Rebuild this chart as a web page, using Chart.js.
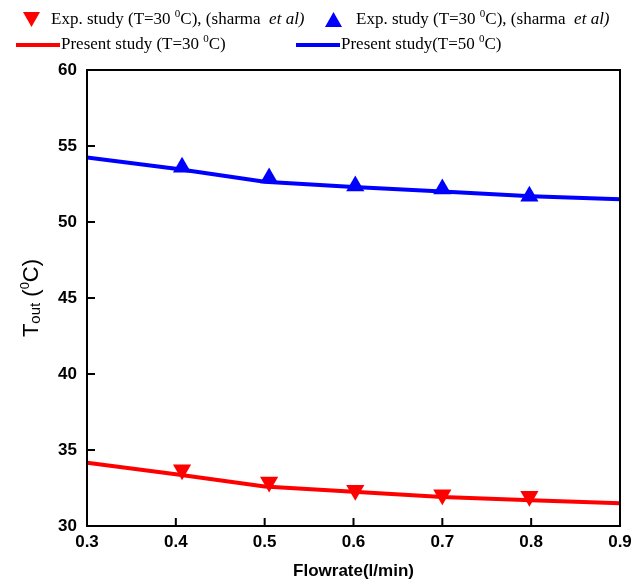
<!DOCTYPE html>
<html>
<head>
<meta charset="utf-8">
<title>Outlet temperature vs flowrate</title>
<script src="https://cdn.jsdelivr.net/npm/chart.js@4.4.1/dist/chart.umd.min.js"></script>
<style>
  html, body { margin: 0; padding: 0; background: #fff; }
</style>
</head>
<body>
<canvas id="chart" width="643" height="582"></canvas>
<script>
// model curves (present study)
const flowModel = [0.3, 0.4, 0.5, 0.6, 0.7, 0.8, 0.9];
const tout30Model = [34.17, 33.4, 32.6, 32.25, 31.9, 31.7, 31.5];
const tout50Model = [54.25, 53.5, 52.65, 52.3, 52.0, 51.7, 51.5];

// experimental points (sharma et al)
const flowExp = [0.407, 0.505, 0.602, 0.7, 0.798];
const tout30Exp = [33.7, 32.89, 32.35, 32.06, 31.95];
const tout50Exp = [53.6, 52.9, 52.37, 52.17, 51.69];

const xTicks = [0.3, 0.4, 0.5, 0.6, 0.7, 0.8, 0.9];
const yTicks = [30, 35, 40, 45, 50, 55, 60];

const RED = 'rgb(255,0,0)';
const BLUE = 'rgb(0,0,255)';
const SANS = '"Liberation Sans", Arial, sans-serif';
const SERIF = '"Liberation Serif", "Times New Roman", serif';

function pts(xs, ys) {
  return xs.map((x, i) => ({ x: x, y: ys[i] }));
}

// box around the plot plus inward tick marks
const framePlugin = {
  id: 'frame',
  afterDatasetsDraw(chart) {
    const { ctx, chartArea: a, scales } = chart;
    ctx.save();
    ctx.strokeStyle = '#000';
    ctx.lineWidth = 2;
    ctx.strokeRect(a.left, a.top, a.right - a.left, a.bottom - a.top);
    ctx.beginPath();
    xTicks.forEach(v => {
      const px = scales.x.getPixelForValue(v);
      ctx.moveTo(px, a.bottom);
      ctx.lineTo(px, a.bottom - 8);
    });
    yTicks.forEach(v => {
      const py = scales.y.getPixelForValue(v);
      ctx.moveTo(a.left, py);
      ctx.lineTo(a.left + 8, py);
    });
    ctx.stroke();
    ctx.restore();
  }
};

// draws a run of text pieces, each with its own font and vertical shift
function drawRuns(ctx, runs, x, y) {
  runs.forEach(r => {
    ctx.font = r.font;
    ctx.fillText(r.text, x, y + (r.dy || 0));
    x += ctx.measureText(r.text).width;
  });
  return x;
}

const titlesPlugin = {
  id: 'titles',
  afterDraw(chart) {
    const { ctx, chartArea: a } = chart;
    ctx.save();
    ctx.fillStyle = '#000';
    ctx.textBaseline = 'middle';

    // x axis title
    ctx.font = 'bold 17px ' + SANS;
    ctx.textAlign = 'center';
    ctx.fillText('Flowrate(l/min)', (a.left + a.right) / 2, 571);

    // y axis title: T_out (0C)
    ctx.textAlign = 'left';
    const yRuns = [
      { text: 'T', font: '22px ' + SANS },
      { text: 'out', font: '15px ' + SANS, dy: 4 },
      { text: ' (', font: '22px ' + SANS },
      { text: '0', font: '13px ' + SANS, dy: -7 },
      { text: 'C)', font: '22px ' + SANS }
    ];
    let total = 0;
    yRuns.forEach(r => { ctx.font = r.font; total += ctx.measureText(r.text).width; });
    ctx.translate(32, (a.top + a.bottom) / 2);
    ctx.rotate(-Math.PI / 2);
    drawRuns(ctx, yRuns, -total / 2, 0);
    ctx.restore();

    // legend
    ctx.save();
    ctx.fillStyle = '#000';
    ctx.textBaseline = 'middle';
    ctx.textAlign = 'left';
    const f = '17px ' + SERIF;
    const fs = '11px ' + SERIF;
    const fi = 'italic 17px ' + SERIF;
    const expRuns = [
      { text: 'Exp. study (T=30 ', font: f },
      { text: '0', font: fs, dy: -6 },
      { text: 'C), (sharma  ', font: f },
      { text: 'et al)', font: fi }
    ];
    const row1 = 20, row2 = 45;

    ctx.fillStyle = RED;
    ctx.beginPath();
    ctx.moveTo(23, 12); ctx.lineTo(40, 12); ctx.lineTo(31.5, 27); ctx.closePath();
    ctx.fill();
    ctx.fillStyle = BLUE;
    ctx.beginPath();
    ctx.moveTo(325, 27); ctx.lineTo(342, 27); ctx.lineTo(333.5, 12); ctx.closePath();
    ctx.fill();

    ctx.fillStyle = '#000';
    drawRuns(ctx, expRuns, 51, row1);
    drawRuns(ctx, expRuns, 356, row1);

    ctx.lineWidth = 4;
    ctx.strokeStyle = RED;
    ctx.beginPath(); ctx.moveTo(16, row2); ctx.lineTo(60, row2); ctx.stroke();
    ctx.strokeStyle = BLUE;
    ctx.beginPath(); ctx.moveTo(296, row2); ctx.lineTo(340, row2); ctx.stroke();

    drawRuns(ctx, [
      { text: 'Present study (T=30 ', font: f },
      { text: '0', font: fs, dy: -6 },
      { text: 'C)', font: f }
    ], 61, row2);
    drawRuns(ctx, [
      { text: 'Present study(T=50 ', font: f },
      { text: '0', font: fs, dy: -6 },
      { text: 'C)', font: f }
    ], 341, row2);
    ctx.restore();
  }
};

new Chart(document.getElementById('chart'), {
  type: 'scatter',
  data: {
    datasets: [
      {
        label: 'Exp. study (T=30 0C), (sharma et al)',
        data: pts(flowExp, tout30Exp),
        showLine: false,
        pointStyle: 'triangle',
        rotation: 180,
        pointRadius: 10.5,
        backgroundColor: RED,
        borderColor: RED,
        borderWidth: 0,
        order: 1
      },
      {
        label: 'Exp. study (T=50 0C), (sharma et al)',
        data: pts(flowExp, tout50Exp),
        showLine: false,
        pointStyle: 'triangle',
        pointRadius: 10.5,
        backgroundColor: BLUE,
        borderColor: BLUE,
        borderWidth: 0,
        order: 1
      },
      {
        label: 'Present study (T=30 0C)',
        data: pts(flowModel, tout30Model),
        showLine: true,
        pointRadius: 0,
        borderColor: RED,
        borderWidth: 4,
        tension: 0,
        order: 2
      },
      {
        label: 'Present study(T=50 0C)',
        data: pts(flowModel, tout50Model),
        showLine: true,
        pointRadius: 0,
        borderColor: BLUE,
        borderWidth: 4,
        tension: 0,
        order: 2
      }
    ]
  },
  options: {
    responsive: false,
    animation: false,
    layout: { padding: { left: 0, top: 70, right: 23, bottom: 0 } },
    plugins: {
      legend: { display: false },
      tooltip: { enabled: false }
    },
    scales: {
      x: {
        type: 'linear',
        min: 0.3,
        max: 0.9,
        afterFit(scale) { scale.height = 56; },
        afterBuildTicks(scale) { scale.ticks = xTicks.map(v => ({ value: v })); },
        grid: { display: true, drawOnChartArea: false, drawTicks: false },
        border: { display: false },
        ticks: {
          padding: 6,
          color: '#000',
          font: { family: SANS, size: 17, weight: 'bold' },
          callback: v => v.toFixed(1)
        }
      },
      y: {
        min: 30,
        max: 60,
        afterFit(scale) { scale.width = 87; },
        afterBuildTicks(scale) { scale.ticks = yTicks.map(v => ({ value: v })); },
        grid: { display: true, drawOnChartArea: false, drawTicks: false },
        border: { display: false },
        ticks: {
          padding: 10,
          color: '#000',
          font: { family: SANS, size: 17, weight: 'bold' },
          callback: v => String(v)
        }
      }
    }
  },
  plugins: [framePlugin, titlesPlugin]
});
</script>
</body>
</html>
